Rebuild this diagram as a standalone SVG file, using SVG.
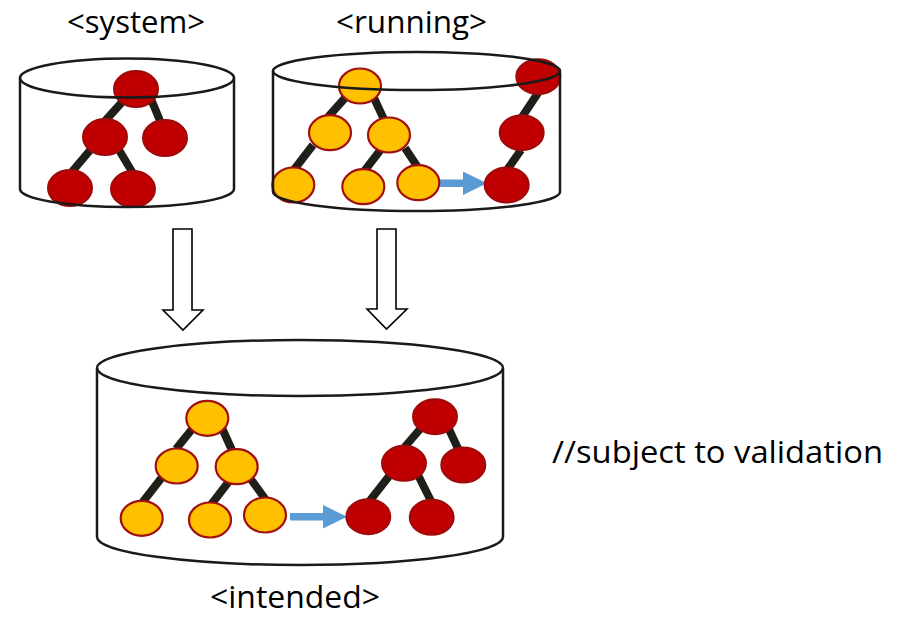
<svg xmlns="http://www.w3.org/2000/svg" width="900" height="618" viewBox="0 0 900 618">
  <style>
    .lbl { font-family: "Open Sans", "Liberation Sans", sans-serif; font-size: 31px; fill: #000; }
    .cyl-fill { fill: #fff; stroke: none; }
    .cyl-line { fill: none; stroke: #1a1a1a; stroke-width: 2.5; }
    .red { fill: #C00000; stroke: #9E0A0A; stroke-width: 2; }
    .yel { fill: #FFC000; stroke: #A01010; stroke-width: 2.2; }
    .edge { stroke: #1f1f1a; stroke-width: 8; stroke-linecap: butt; fill: none; }
    .flow { fill: #5B9BD5; stroke: none; }
    .hollow { fill: #fff; stroke: #000; stroke-width: 1.6; stroke-linejoin: miter; }
  </style>

  <!-- labels -->
  <text class="lbl" x="136" y="33" text-anchor="middle" textLength="138" lengthAdjust="spacingAndGlyphs">&lt;system&gt;</text>
  <text class="lbl" x="411.5" y="33" text-anchor="middle" textLength="151" lengthAdjust="spacingAndGlyphs">&lt;running&gt;</text>
  <text class="lbl" x="295" y="608" text-anchor="middle" textLength="170" lengthAdjust="spacingAndGlyphs">&lt;intended&gt;</text>
  <text class="lbl" x="552" y="463" textLength="331" lengthAdjust="spacingAndGlyphs">//subject to validation</text>

  <!-- cylinder bodies (white fill) -->
  <path class="cyl-fill" d="M20,78 A107,19.5 0 0 1 234,78 L234,189 A107,18 0 0 1 20,189 Z"/>
  <path class="cyl-fill" d="M273,71 A143.5,19 0 0 1 560,71 L560,192 A143.5,19 0 0 1 273,192 Z"/>
  <path class="cyl-fill" d="M97,368 A203,28 0 0 1 503,368 L503,537 A203,28 0 0 1 97,537 Z"/>

  <!-- connectors -->
  <g id="connectors">
    <!-- system tree -->
    <line class="edge" x1="124" y1="100" x2="105" y2="121"/>
    <line class="edge" x1="151" y1="99" x2="163" y2="128"/>
    <line class="edge" x1="92" y1="148" x2="70" y2="174"/>
    <line class="edge" x1="119" y1="150" x2="134" y2="175"/>
    <!-- running tree -->
    <line class="edge" x1="345" y1="98" x2="328" y2="117"/>
    <line class="edge" x1="374" y1="98" x2="387" y2="126"/>
    <line class="edge" x1="313" y1="145" x2="293" y2="171"/>
    <line class="edge" x1="382" y1="148" x2="362" y2="174"/>
    <line class="edge" x1="405" y1="148" x2="419" y2="169"/>
    <line class="edge" x1="538" y1="93" x2="522" y2="117"/>
    <line class="edge" x1="521" y1="150" x2="507" y2="170"/>
    <polygon class="flow" points="440,179.5 463,179.5 463,171.5 487,183.3 463,195 463,187 440,187"/>
    <!-- intended tree -->
    <line class="edge" x1="193" y1="428" x2="176" y2="449"/>
    <line class="edge" x1="222" y1="428" x2="235" y2="457"/>
    <line class="edge" x1="163" y1="476" x2="142" y2="503"/>
    <line class="edge" x1="230" y1="480" x2="210" y2="506"/>
    <line class="edge" x1="250" y1="478" x2="266" y2="500"/>
    <line class="edge" x1="421" y1="428" x2="403" y2="449"/>
    <line class="edge" x1="447" y1="425" x2="461" y2="455"/>
    <line class="edge" x1="390" y1="475" x2="368" y2="503"/>
    <line class="edge" x1="418" y1="475" x2="432" y2="503"/>
    <polygon class="flow" points="290,513 323,513 323,505 347,516.7 323,528.4 323,520.4 290,520.4"/>
    <!-- merge arrows -->
    <polygon class="hollow" points="173,229 192,229 192,310 203,310 183,330 163,310 173,310"/>
    <polygon class="hollow" points="377,229 396,229 396,309 407,309 386.5,329 367,309 377,309"/>
  </g>

  <!-- system nodes -->
  <g id="sys-root"><ellipse class="red" cx="136" cy="89" rx="22" ry="18"/></g>
  <g id="sys-l"><ellipse class="red" cx="105" cy="137" rx="22" ry="18"/></g>
  <g id="sys-r"><ellipse class="red" cx="165" cy="138" rx="22" ry="18"/></g>
  <g id="sys-ll"><ellipse class="red" cx="70" cy="188" rx="22" ry="18"/></g>
  <g id="sys-lr"><ellipse class="red" cx="133" cy="189" rx="22" ry="18"/></g>

  <!-- running nodes -->
  <g id="run-root"><ellipse class="yel" cx="360" cy="86" rx="21" ry="17.5"/></g>
  <g id="run-l"><ellipse class="yel" cx="330" cy="132.7" rx="21" ry="17.5"/></g>
  <g id="run-r"><ellipse class="yel" cx="389" cy="135" rx="21" ry="17.5"/></g>
  <g id="run-ll"><ellipse class="yel" cx="293.3" cy="185" rx="21" ry="17.5"/></g>
  <g id="run-rl"><ellipse class="yel" cx="363.3" cy="186.7" rx="21" ry="17.5"/></g>
  <g id="run-rr"><ellipse class="yel" cx="418.3" cy="182.7" rx="21" ry="17.5"/></g>
  <g id="run-x1"><ellipse class="red" cx="538.3" cy="76.7" rx="22" ry="17.5"/></g>
  <g id="run-x2"><ellipse class="red" cx="521.7" cy="132.7" rx="22" ry="17.5"/></g>
  <g id="run-x3"><ellipse class="red" cx="506.7" cy="185" rx="22" ry="17.5"/></g>

  <!-- intended nodes -->
  <g id="int-root"><ellipse class="yel" cx="207.3" cy="418.3" rx="21" ry="17.5"/></g>
  <g id="int-l"><ellipse class="yel" cx="176.7" cy="466" rx="21" ry="17.5"/></g>
  <g id="int-r"><ellipse class="yel" cx="236.7" cy="466.7" rx="21" ry="17.5"/></g>
  <g id="int-ll"><ellipse class="yel" cx="141.7" cy="518.3" rx="21" ry="17.5"/></g>
  <g id="int-rl"><ellipse class="yel" cx="210" cy="520" rx="21" ry="17.5"/></g>
  <g id="int-rr"><ellipse class="yel" cx="265" cy="515" rx="21" ry="17.5"/></g>
  <g id="int-x-root"><ellipse class="red" cx="435" cy="416.7" rx="22" ry="17.5"/></g>
  <g id="int-x-l"><ellipse class="red" cx="404" cy="463.3" rx="22" ry="17.5"/></g>
  <g id="int-x-r"><ellipse class="red" cx="463.3" cy="465" rx="22" ry="17.5"/></g>
  <g id="int-x-ll"><ellipse class="red" cx="368.3" cy="516.7" rx="22" ry="17.5"/></g>
  <g id="int-x-lr"><ellipse class="red" cx="431.7" cy="517.3" rx="22" ry="17.5"/></g>

  <!-- cylinder outlines drawn above the trees -->
  <g id="store-system">
    <ellipse class="cyl-line" cx="127" cy="78" rx="107" ry="19.5"/>
    <path class="cyl-line" d="M20,78 L20,189 A107,18 0 0 0 234,189 L234,78"/>
  </g>
  <g id="store-running">
    <ellipse class="cyl-line" cx="416.5" cy="71" rx="143.5" ry="19"/>
    <path class="cyl-line" d="M273,71 L273,192 A143.5,19 0 0 0 560,192 L560,71"/>
  </g>
  <g id="store-intended">
    <ellipse class="cyl-line" cx="300" cy="368" rx="203" ry="28"/>
    <path class="cyl-line" d="M97,368 L97,537 A203,28 0 0 0 503,537 L503,368"/>
  </g>
</svg>
